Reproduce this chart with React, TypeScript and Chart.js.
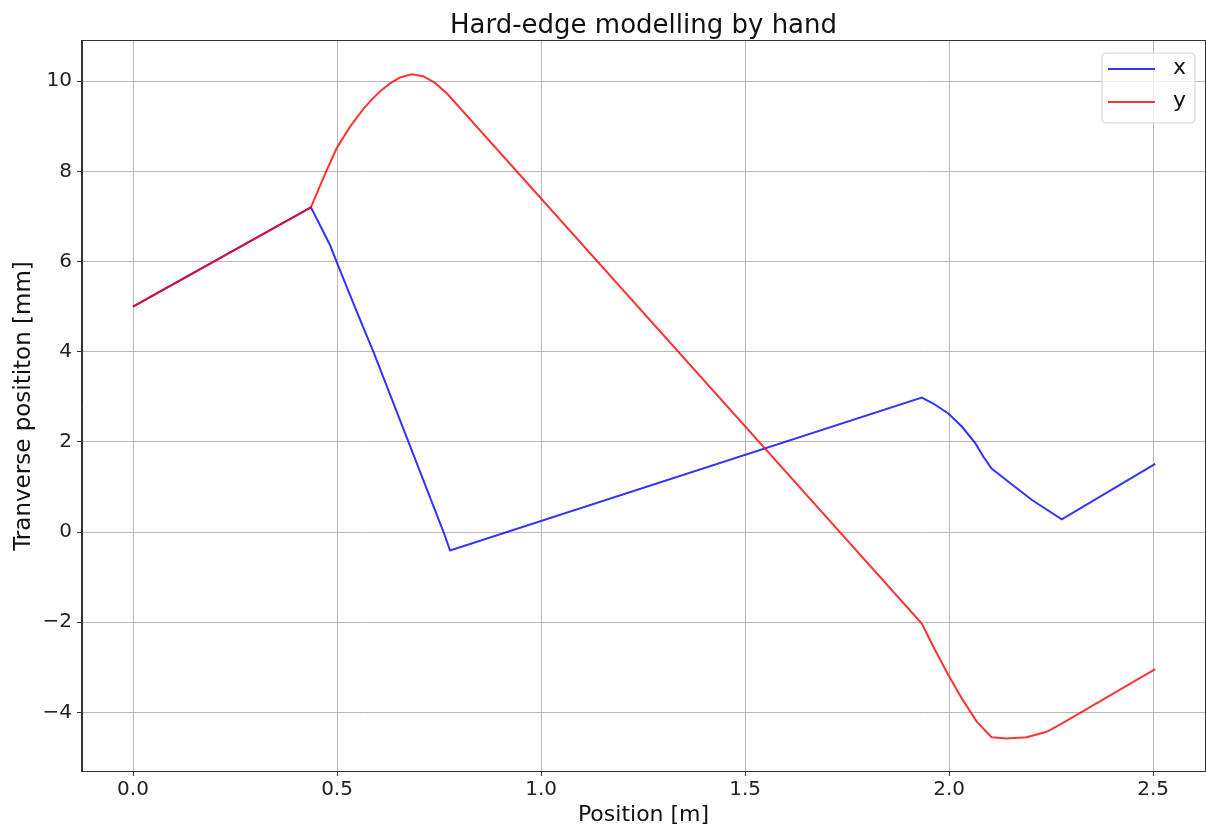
import React, { useEffect, useRef } from "react";
import { Chart, registerables } from "chart.js";

Chart.register(...registerables);

const posX = [0, 0.436, 0.458, 0.483, 0.499, 0.52, 0.55, 0.589, 0.675, 0.761, 0.777, 1.933, 1.961, 1.998, 2.031, 2.064, 2.084, 2.104, 2.15, 2.203, 2.276, 2.505];
const valX = [5, 7.2, 6.81, 6.36, 5.99, 5.52, 4.85, 4.0, 2.0, 0.0, -0.41, 2.98, 2.85, 2.63, 2.34, 1.97, 1.67, 1.41, 1.08, 0.71, 0.28, 1.51];

const posY = [0, 0.436, 0.471, 0.499, 0.532, 0.565, 0.585, 0.605, 0.63, 0.654, 0.683, 0.711, 0.74, 0.769, 1.933, 1.961, 1.998, 2.031, 2.068, 2.104, 2.141, 2.19, 2.239, 2.278, 2.505];
const valY = [5, 7.2, 7.95, 8.51, 8.99, 9.39, 9.59, 9.77, 9.95, 10.08, 10.15, 10.11, 9.96, 9.73, -2.03, -2.54, -3.17, -3.69, -4.21, -4.55, -4.58, -4.55, -4.43, -4.24, -3.04];

const xTicks = [0, 0.5, 1.0, 1.5, 2.0, 2.5];
const yTicks = [-4, -2, 0, 2, 4, 6, 8, 10];

const seriesNames = ["x", "y"];
const seriesColors = ["rgba(0,0,255,0.8)", "rgba(255,0,0,0.8)"];

const TITLE = "Hard-edge modelling by hand";
const XLABEL = "Position [m]";
const YLABEL = "Tranverse posititon [mm]";
const FONT = "'DejaVu Sans', sans-serif";

const fmtNum = (v: number, d: number) => {
  const s = Math.abs(v).toFixed(d);
  return v < 0 ? "\u2212" + s : s;
};

const decorPlugin = {
  id: "decor",
  afterDraw(chart: any) {
    const { ctx, chartArea } = chart;
    const { left, right, top, bottom } = chartArea;
    ctx.save();
    // frame
    ctx.strokeStyle = "#333";
    ctx.lineWidth = 1;
    ctx.strokeRect(left - 0.5, top - 0.5, right - left + 1, bottom - top + 1);
    // title
    ctx.fillStyle = "#111";
    ctx.font = `26px ${FONT}`;
    ctx.textAlign = "center";
    ctx.textBaseline = "middle";
    ctx.fillText(TITLE, (left + right) / 2, 26);
    // legend
    const bx = right - 103, by = top + 12, bw = 93, bh = 70;
    ctx.beginPath();
    const r = 4;
    ctx.moveTo(bx + r, by);
    ctx.lineTo(bx + bw - r, by);
    ctx.quadraticCurveTo(bx + bw, by, bx + bw, by + r);
    ctx.lineTo(bx + bw, by + bh - r);
    ctx.quadraticCurveTo(bx + bw, by + bh, bx + bw - r, by + bh);
    ctx.lineTo(bx + r, by + bh);
    ctx.quadraticCurveTo(bx, by + bh, bx, by + bh - r);
    ctx.lineTo(bx, by + r);
    ctx.quadraticCurveTo(bx, by, bx + r, by);
    ctx.closePath();
    ctx.fillStyle = "rgba(255,255,255,0.8)";
    ctx.fill();
    ctx.strokeStyle = "#d0d0d0";
    ctx.stroke();
    ctx.font = `22px ${FONT}`;
    ctx.textAlign = "left";
    ctx.textBaseline = "middle";
    seriesNames.forEach((name, i) => {
      const ly = by + 16 + i * 33;
      ctx.strokeStyle = seriesColors[i];
      ctx.lineWidth = 2;
      ctx.beginPath();
      ctx.moveTo(bx + 6, ly);
      ctx.lineTo(bx + 53, ly);
      ctx.stroke();
      ctx.fillStyle = "#111";
      ctx.fillText(name, bx + 71, ly - 1);
    });
    ctx.restore();
  },
};

export default function App() {
  const ref = useRef<HTMLCanvasElement | null>(null);
  useEffect(() => {
    if (!ref.current) return;
    const chart = new Chart(ref.current, {
      type: "line",
      data: {
        datasets: [
          {
            label: seriesNames[0],
            data: posX.map((p, i) => ({ x: p, y: valX[i] })),
            borderColor: seriesColors[0],
            borderWidth: 2,
            pointRadius: 0,
            tension: 0,
            fill: false,
            order: 2,
          },
          {
            label: seriesNames[1],
            data: posY.map((p, i) => ({ x: p, y: valY[i] })),
            borderColor: seriesColors[1],
            borderWidth: 2,
            pointRadius: 0,
            tension: 0,
            fill: false,
            order: 1,
          },
        ],
      },
      options: {
        responsive: false,
        animation: false,
        layout: { padding: { top: 41, right: 1, left: 0, bottom: 0 } },
        plugins: { legend: { display: false }, title: { display: false }, tooltip: { enabled: false } },
        scales: {
          x: {
            type: "linear",
            min: -0.125,
            max: 2.627,
            afterFit: (s: any) => { s.height = 56; },
            afterBuildTicks: (s: any) => { s.ticks = xTicks.map((v) => ({ value: v })); },
            ticks: {
              callback: (v: any) => fmtNum(Number(v), 1),
              font: { family: FONT, size: 20 },
              color: "#222",
              padding: 2,
              maxRotation: 0,
            },
            grid: { color: "#b8b8b8", lineWidth: 1, tickColor: "#333", tickLength: 5 },
            border: { display: true, color: "#333" },
            title: { display: true, text: XLABEL, font: { family: FONT, size: 22 }, color: "#111", padding: { top: 0, bottom: -1 } },
          },
          y: {
            type: "linear",
            min: -5.3,
            max: 10.89,
            afterFit: (s: any) => { s.width = 82; },
            afterBuildTicks: (s: any) => { s.ticks = yTicks.map((v) => ({ value: v })); },
            ticks: {
              callback: (v: any) => fmtNum(Number(v), 0),
              font: { family: FONT, size: 20 },
              color: "#222",
              padding: 5,
            },
            grid: { color: "#b8b8b8", lineWidth: 1, tickColor: "#333", tickLength: 5 },
            border: { display: true, color: "#333" },
            title: { display: true, text: YLABEL, font: { family: FONT, size: 23 }, color: "#111", padding: { top: 10, bottom: 0 } },
          },
        },
      } as any,
      plugins: [decorPlugin],
    });
    return () => chart.destroy();
  }, []);
  return (
    <div style={{ position: "absolute", left: 0, top: 0, width: 1206, height: 827, background: "#fff" }}>
      <canvas ref={ref} width={1206} height={827} style={{ width: 1206, height: 827, display: "block" }} />
    </div>
  );
}
